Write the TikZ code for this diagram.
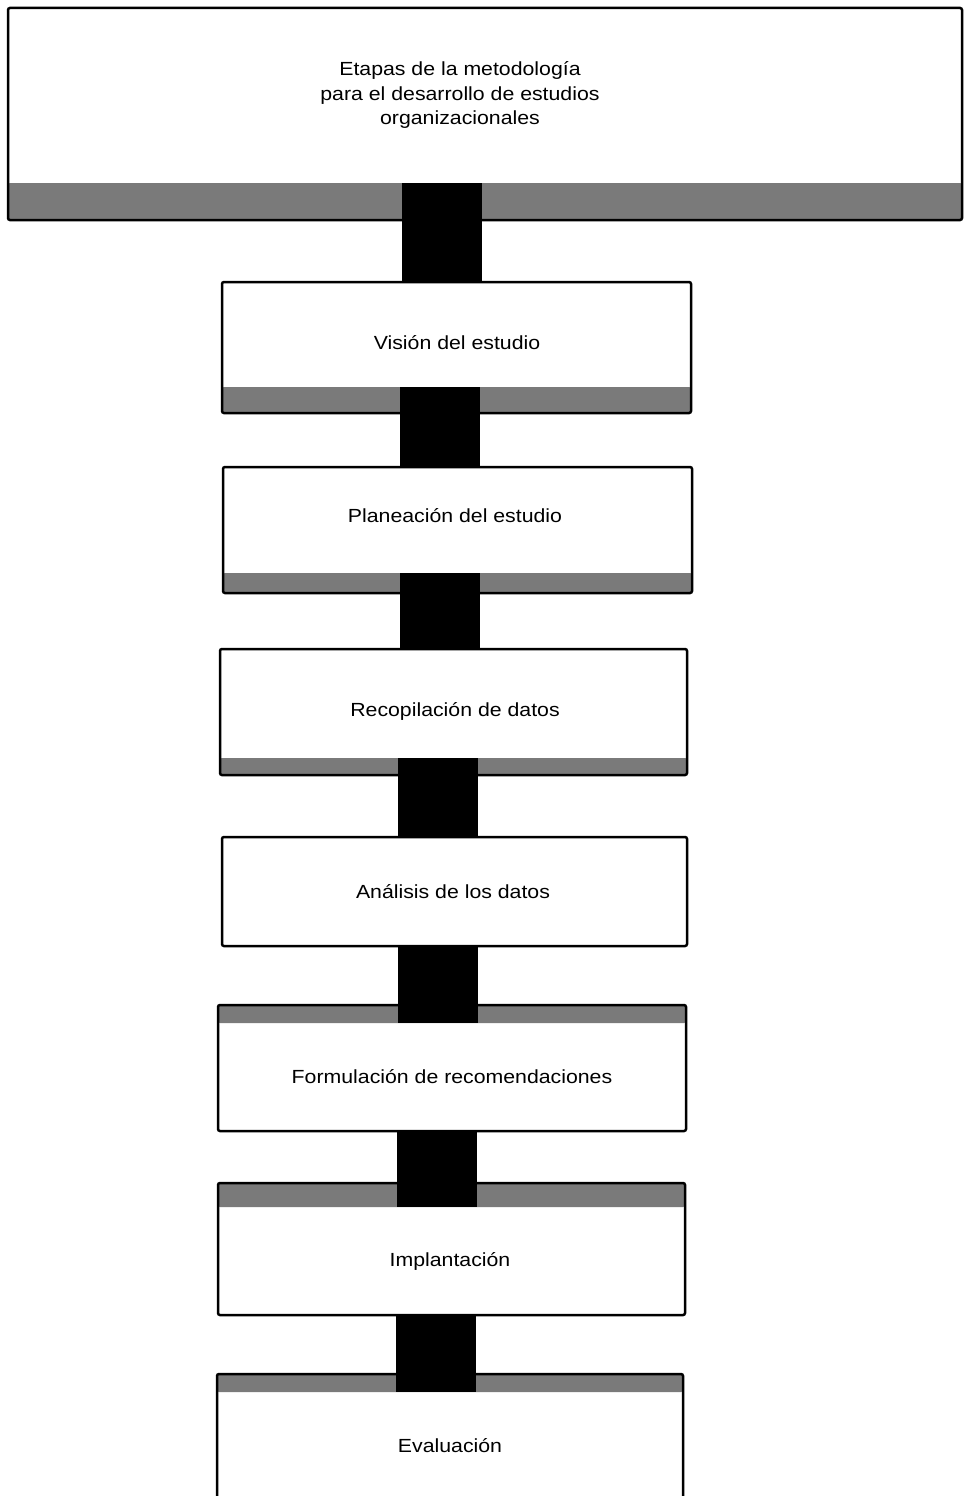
\documentclass[tikz,border=0pt]{standalone}
\usepackage{fontspec}
\setmainfont[FakeStretch=1.12]{Liberation Sans}
\begin{document}
\begin{tikzpicture}[x=1pt,y=-1pt,
  stagebox/.style={draw=black, line width=2.5pt, fill=white, rounded corners=2pt,
    anchor=north west, inner sep=0pt, outer sep=0pt},
  bandfill/.style={fill=black!52},
  conn/.style={draw=black, line width=80pt, line cap=butt},
  lbl/.style={font=\fontsize{19}{24.5}\selectfont, text height=14pt, text depth=4pt, inner sep=0pt},
  bandbottom/.style={path picture={\fill[bandfill] (path picture bounding box.south west) rectangle ([yshift=#1]path picture bounding box.south east);}},
  bandtop/.style={path picture={\fill[bandfill] (path picture bounding box.north west) rectangle ([yshift=-#1]path picture bounding box.north east);}}
]
\useasboundingbox (0,0) rectangle (969,1496);
\fill[white] (0,0) rectangle (969,1496);

% top box
\node[stagebox, bandbottom=37pt, minimum width=954pt, minimum height=212pt] (T) at (8,8) {};
\node[font=\fontsize{19}{24.5}\selectfont, align=center, inner sep=0pt] (Tt) at (460,95)
  {Etapas de la metodología\\para el desarrollo de estudios\\organizacionales};

% stage boxes
\node[stagebox, bandbottom=26pt, minimum width=469pt, minimum height=131pt] (V) at (222,282) {};
\node[stagebox, bandbottom=20pt, minimum width=469pt, minimum height=126pt] (P) at (223,467) {};
\node[stagebox, bandbottom=17pt, minimum width=467pt, minimum height=126pt] (R) at (220,649) {};
\node[stagebox, minimum width=465pt, minimum height=109pt] (A) at (222,837) {};
\node[stagebox, bandtop=18pt, minimum width=468pt, minimum height=126pt] (F) at (218,1005) {};
\node[stagebox, bandtop=24pt, minimum width=467pt, minimum height=132pt] (I) at (218,1183) {};
\node[stagebox, bandtop=18pt, minimum width=466pt, minimum height=140pt] (E) at (217,1374) {};

% labels
\node[lbl] (Vt) at (457,344) {Visión del estudio};
\node[lbl] (Pt) at (455,517) {Planeación del estudio};
\node[lbl] (Rt) at (455,711) {Recopilación de datos};
\node[lbl] (At) at (453,893) {Análisis de los datos};
\node[lbl] (Ft) at (452,1078) {Formulación de recomendaciones};
\node[lbl] (It) at (450,1261) {Implantación};
\node[lbl] (Et) at (450,1447) {Evaluación};

% connectors
\draw[conn] ([xshift=-43pt,yshift=37pt]T.south) -- ([xshift=-14.5pt]V.north);
\draw[conn] ([xshift=-16.5pt,yshift=26pt]V.south) -- ([xshift=-17.5pt]P.north);
\draw[conn] ([xshift=-18pt,yshift=20pt]P.south) -- ([xshift=-14pt]R.north);
\draw[conn] ([xshift=-15.5pt,yshift=17pt]R.south) -- ([xshift=-16.5pt]A.north);
\draw[conn] ([xshift=-17pt]A.south) -- ([xshift=-14.5pt,yshift=-18pt]F.north);
\draw[conn] ([xshift=-15.5pt]F.south) -- ([xshift=-15pt,yshift=-24pt]I.north);
\draw[conn] ([xshift=-16pt]I.south) -- ([xshift=-14.5pt,yshift=-18pt]E.north);
\end{tikzpicture}
\end{document}
